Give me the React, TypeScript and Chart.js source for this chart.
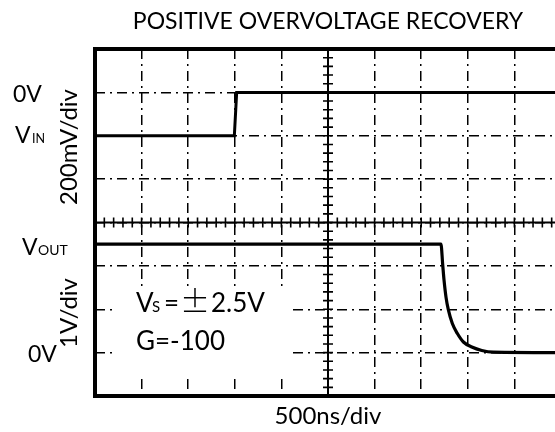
import React, { useEffect, useRef } from "react";
import { Chart, registerables } from "chart.js";

Chart.register(...registerables);

// ---- data ----
const titleText = "POSITIVE OVERVOLTAGE RECOVERY";
const xAxisLabel = "500ns/div";
const vinAxisLabel = "200mV/div";
const voutAxisLabel = "1V/div";

// time axis: 500 ns/div, 10 divisions
const timeMin = 0;
const timeMax = 5000;
const timeStep = 500;

// VIN channel: 200 mV/div, 0V one division below top
const vinMin = -1400;
const vinMax = 200;
const vinStep = 200;
const vinTime = [0, 1495, 1520, 5000];
const vinMv = [-200, -200, 0, 0];

// VOUT channel: 1 V/div, 0V one division above bottom
const voutMin = -1;
const voutMax = 7;
const voutTime = [0, 3712, 3731, 3745, 3766, 3791, 3834, 3888, 3953, 4043, 4150, 4274, 5000];
const voutV = [2.5, 2.5, 2.02, 1.67, 1.28, 0.99, 0.67, 0.44, 0.245, 0.13, 0.05, 0.01, 0];

const FONT = "Lato, 'Open Sans', sans-serif";

const scopePlugin = {
  id: "scopeDecor",
  beforeDraw(chart: any) {
    const { ctx, width, height } = chart;
    ctx.save();
    ctx.fillStyle = "#fff";
    ctx.fillRect(0, 0, width, height);
    ctx.restore();
  },
  beforeDatasetsDraw(chart: any) {
    const { ctx, chartArea } = chart;
    const xs = chart.scales.x;
    const ys = chart.scales.y;
    ctx.save();
    // white box behind the annotation text
    ctx.fillStyle = "#fff";
    ctx.fillRect(112, 289, 180, 85);

    // centre cross (solid) with minor ticks
    const cx = xs.getPixelForValue((timeMin + timeMax) / 2);
    const cy = ys.getPixelForValue((vinMin + vinMax) / 2);
    ctx.strokeStyle = "#000";
    ctx.lineWidth = 2;
    ctx.setLineDash([]);
    ctx.beginPath();
    ctx.moveTo(cx, chartArea.top);
    ctx.lineTo(cx, chartArea.bottom);
    ctx.moveTo(chartArea.left, cy);
    ctx.lineTo(chartArea.right, cy);
    ctx.stroke();
    ctx.lineWidth = 1.6;
    ctx.beginPath();
    for (let t = timeMin; t <= timeMax; t += timeStep / 5) {
      const px = xs.getPixelForValue(t);
      ctx.moveTo(px, cy - 5);
      ctx.lineTo(px, cy + 5);
    }
    for (let v = vinMin; v <= vinMax; v += vinStep / 5) {
      const py = ys.getPixelForValue(v);
      ctx.moveTo(cx - 5, py);
      ctx.lineTo(cx + 5, py);
    }
    ctx.stroke();
    ctx.restore();
  },
  afterDatasetsDraw(chart: any) {
    const { ctx, chartArea } = chart;
    ctx.save();
    ctx.strokeStyle = "#000";
    ctx.lineWidth = 4;
    ctx.setLineDash([]);
    ctx.strokeRect(chartArea.left, chartArea.top, chartArea.right - chartArea.left, chartArea.bottom - chartArea.top);
    ctx.restore();
  },
  afterDraw(chart: any) {
    const { ctx } = chart;
    ctx.save();
    ctx.fillStyle = "#000";
    ctx.textBaseline = "alphabetic";

    // title
    ctx.textAlign = "center";
    ctx.font = `23px ${FONT}`;
    ctx.fillText(titleText, 328, 29);

    // x axis label
    ctx.font = `24px ${FONT}`;
    ctx.fillText(xAxisLabel, 328, 424);

    // left labels
    ctx.textAlign = "left";
    ctx.font = `23px ${FONT}`;
    ctx.fillText("0V", 13, 102);
    ctx.fillText("V", 15, 143);
    ctx.fillText("V", 22, 255);
    ctx.fillText("0V", 28, 362);
    ctx.font = `12.5px ${FONT}`;
    ctx.fillText("IN", 32, 143);
    ctx.font = `14px ${FONT}`;
    ctx.fillText("OUT", 38, 255);

    // rotated channel scales
    ctx.textAlign = "center";
    ctx.textBaseline = "middle";
    ctx.font = `24px ${FONT}`;
    ctx.save();
    ctx.translate(69, 147);
    ctx.rotate(-Math.PI / 2);
    ctx.fillText(vinAxisLabel, 0, 0);
    ctx.restore();
    ctx.save();
    ctx.translate(69, 313);
    ctx.rotate(-Math.PI / 2);
    ctx.fillText(voutAxisLabel, 0, 0);
    ctx.restore();

    // annotation
    ctx.textAlign = "left";
    ctx.textBaseline = "alphabetic";
    ctx.font = `26px ${FONT}`;
    ctx.fillText("V", 136, 312);
    ctx.font = `15px ${FONT}`;
    ctx.fillText("S", 152, 312);
    ctx.font = `26px ${FONT}`;
    ctx.fillText("=", 164, 312);
    ctx.font = `300 30px 'Noto Sans CJK SC', ${FONT}`;
    ctx.textAlign = "center";
    ctx.fillText("\u00B1", 195, 312);
    ctx.textAlign = "left";
    ctx.font = `26px ${FONT}`;
    ctx.fillText("2.5V", 211, 312);
    ctx.fillText("G=-100", 136, 350);
    ctx.restore();
  },
};

export default function App() {
  const ref = useRef<HTMLCanvasElement | null>(null);
  useEffect(() => {
    if (!ref.current) return;
    const chart = new Chart(ref.current, {
      type: "line",
      data: {
        datasets: [
          {
            label: "VIN",
            data: vinTime.map((t, i) => ({ x: t, y: vinMv[i] })),
            yAxisID: "y",
            borderColor: "#000",
            borderWidth: 3,
            pointRadius: 0,
            tension: 0,
            fill: false,
          },
          {
            label: "VOUT",
            data: voutTime.map((t, i) => ({ x: t, y: voutV[i] })),
            yAxisID: "y2",
            borderColor: "#000",
            borderWidth: 3.2,
            pointRadius: 0,
            cubicInterpolationMode: "monotone",
            fill: false,
          },
        ],
      },
      options: {
        responsive: false,
        animation: false,
        devicePixelRatio: 1,
        layout: { padding: { left: 95, top: 49, right: 14, bottom: 36 } },
        plugins: { legend: { display: false }, tooltip: { enabled: false }, title: { display: false } },
        scales: {
          x: {
            type: "linear",
            min: timeMin,
            max: timeMax,
            ticks: { display: false, stepSize: timeStep },
            grid: { color: "#000", lineWidth: 1.5, drawTicks: false },
            border: { display: false, dash: [10, 5, 2, 5] },
          },
          y: {
            type: "linear",
            min: vinMin,
            max: vinMax,
            ticks: { display: false, stepSize: vinStep },
            grid: { color: "#000", lineWidth: 1.5, drawTicks: false },
            border: { display: false, dash: [10, 5, 2, 5] },
          },
          y2: {
            type: "linear",
            position: "right",
            min: voutMin,
            max: voutMax,
            display: false,
          },
        },
      },
      plugins: [scopePlugin],
    });
    return () => chart.destroy();
  }, []);
  return (
    <div style={{ position: "fixed", left: 0, top: 0, width: 555, height: 432, overflow: "hidden", background: "#fff" }}>
      <canvas ref={ref} width={575} height={432} style={{ display: "block" }} />
    </div>
  );
}
